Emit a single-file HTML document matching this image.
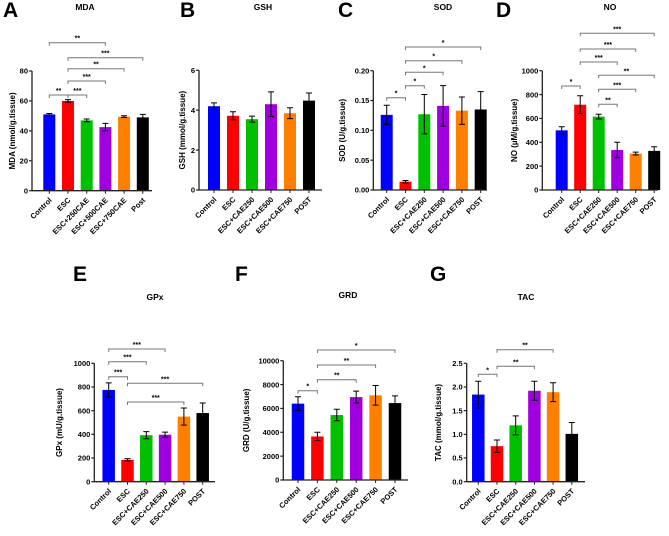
<!DOCTYPE html>
<html><head><meta charset="utf-8"><style>
body{margin:0;background:#fff}
svg{display:block;font-family:"Liberation Sans",sans-serif;font-weight:bold}
</style></head><body>
<svg id="fig" width="669" height="536" viewBox="0 0 669 536"></svg>
<script>
const colors=['#0000ff','#ff0000','#00c000','#a000e0','#ff8000','#000000'];
const catsA=['Control','ESC','ESC+250CAE','ESC+500CAE','ESC+750CAE','Post'];
const catsB=['Control','ESC','ESC+CAE250','ESC+CAE500','ESC+CAE750','POST'];
const mdaValues=[51,60,47,42.5,49.5,49];
const mdaErrors=[0.6,0.9,0.9,2.5,0.6,2];
const mdaTicks=[0,20,40,60,80];
const gshValues=[4.2,3.72,3.55,4.3,3.85,4.48];
const gshErrors=[0.17,0.2,0.15,0.62,0.27,0.38];
const gshTicks=[0,2,4,6];
const sodValues=[0.126,0.014,0.127,0.141,0.133,0.135];
const sodErrors=[0.016,0.002,0.033,0.034,0.023,0.03];
const sodTicks=[0,0.05,0.10,0.15,0.20];
const noValues=[500,715,615,335,305,328];
const noErrors=[30,75,20,65,12,35];
const noTicks=[0,200,400,600,800,1000];
const gpxValues=[775,185,393,397,550,580];
const gpxErrors=[60,10,30,22,72,85];
const gpxTicks=[0,200,400,600,800,1000];
const grdValues=[6400,3650,5450,6950,7100,6450];
const grdErrors=[580,350,480,500,820,600];
const grdTicks=[0,2000,4000,6000,8000,10000];
const tacValues=[1.84,0.75,1.19,1.92,1.89,1.01];
const tacErrors=[0.28,0.13,0.2,0.2,0.2,0.24];
const tacTicks=[0,0.5,1.0,1.5,2.0,2.5];

const NS='http://www.w3.org/2000/svg';
const svg=document.getElementById('fig');
function mk(tag,attrs,parent){const e=document.createElementNS(NS,tag);for(const k in attrs)e.setAttribute(k,attrs[k]);(parent||svg).appendChild(e);return e;}

function panel(p){
  const g=mk('g',{});
  
  
  const yS=v=>p.base-(v/p.max)*(p.base-p.top);
  const xS=i=>p.x0+i*p.step;
  const L=mk('text',{x:p.lx,y:p.ly,'font-size':21,fill:'#000'},g);L.textContent=p.letter;
  
  
  const T=mk('text',{x:p.tx,y:p.ty,'font-size':8.5,'text-anchor':'middle',fill:'#000'},g);T.textContent=p.title;
  
  
  p.values.forEach((v,i)=>{
    const bw=p.bw;
    const r=mk('rect',{x:xS(i)-bw/2,y:yS(v),width:bw,height:p.base-yS(v),fill:colors[i]},g);
    
    
    const e=p.errors[i],top=yS(v+e),bot=yS(Math.max(0,v-e));
    const eb=mk('path',{d:`M${xS(i)},${top}V${bot}M${xS(i)-3},${top}h6M${xS(i)-3},${bot}h6`,stroke:'#000','stroke-width':1,fill:'none'},g);
    
    
    mk('line',{x1:xS(i),y1:p.base,x2:xS(i),y2:p.base+3,stroke:'#222','stroke-width':1},g);
    const xl=mk('text',{x:xS(i)+3,y:p.base+10,'font-size':7.5,'text-anchor':'end',fill:'#000',transform:`rotate(-45 ${xS(i)+3} ${p.base+10})`},g);
    xl.textContent=p.cats[i];
    
    
  });
  mk('path',{d:`M${p.ax},${p.top}V${p.base}H${p.axEnd}`,stroke:'#222','stroke-width':1.3,fill:'none'},g);
  p.ticks.forEach(t=>{
    mk('line',{x1:p.ax-3,y1:yS(t),x2:p.ax,y2:yS(t),stroke:'#222','stroke-width':1.2},g);
    const tl=mk('text',{x:p.ax-4,y:yS(t)+2.7,'font-size':7.5,'text-anchor':'end',fill:'#000'},g);
    tl.textContent=p.fmt(t);
    
    
  });
  const cy=(p.top+p.base)/2;
  const yt=mk('text',{x:p.ytx,y:cy,'font-size':8,'text-anchor':'middle',fill:'#000',transform:`rotate(-90 ${p.ytx} ${cy})`},g);
  yt.textContent=p.ylabel;
  
  
  p.br.forEach(b=>{
    const x1=xS(b[0]),x2=xS(b[1]);
    const bl=mk('path',{d:`M${x1},${b[2]+3}V${b[2]}H${x2}V${b[2]+3}`,stroke:'#777','stroke-width':1,fill:'none'},g);
    
    
    const s=mk('text',{x:(x1+x2)/2,y:b[2]-2,'font-size':7,'text-anchor':'middle',fill:'#000'},g);
    s.textContent=b[3];
    
    
  });
}
const f0=t=>String(t), f2=t=>t.toFixed(2), f1=t=>t.toFixed(1);
panel({id:'mda',letter:'A',lx:3,ly:17,title:'MDA',tx:85,ty:10,values:mdaValues,errors:mdaErrors,ticks:mdaTicks,cats:catsA,max:80,top:71,base:190.7,ax:32,axEnd:152,x0:49.3,step:18.7,bw:12,ytx:15,ylabel:'MDA (nmol/g.tissue)',fmt:f0,
 br:[[0,3,42.7,'**'],[1,5,57.7,'***'],[1,4,68.7,'**'],[1,3,81,'***'],[0,1,95,'**'],[1,2,95,'***']]});
panel({id:'gsh',letter:'B',lx:180,ly:17,title:'GSH',tx:263,ty:10,values:gshValues,errors:gshErrors,ticks:gshTicks,cats:catsB,max:6,top:70.3,base:190,ax:199,axEnd:322,x0:214,step:19,bw:12,ytx:185,ylabel:'GSH (mmol/g.tissue)',fmt:f0,br:[]});
panel({id:'sod',letter:'C',lx:338,ly:17,title:'SOD',tx:443,ty:10,values:sodValues,errors:sodErrors,ticks:sodTicks,cats:catsB,max:0.2,top:70.7,base:190,ax:373.3,axEnd:487,x0:386.7,step:18.8,bw:12,ytx:345,ylabel:'SOD (U/g.tissue)',fmt:f2,
 br:[[0,1,97.7,'*'],[1,2,85.7,'*'],[1,3,72.3,'*'],[1,4,60.7,'*'],[1,5,47,'*']]});
panel({id:'no',letter:'D',lx:496,ly:17,title:'NO',tx:610,ty:10,values:noValues,errors:noErrors,ticks:noTicks,cats:catsB,max:1000,top:70.7,base:190,ax:542.3,axEnd:658,x0:561.7,step:18.5,bw:12,ytx:517,ylabel:'NO (µM/g.tissue)',fmt:f0,
 br:[[0,1,86,'*'],[2,3,104.3,'**'],[2,4,89.3,'***'],[2,5,75.3,'**'],[1,3,62,'***'],[1,4,49,'***'],[1,5,33.3,'***']]});
panel({id:'gpx',letter:'E',lx:73,ly:281,title:'GPx',tx:155,ty:300,values:gpxValues,errors:gpxErrors,ticks:gpxTicks,cats:catsB,max:1000,top:363.3,base:481.7,ax:94.3,axEnd:215,x0:108.7,step:18.8,bw:12.5,ytx:62,ylabel:'GPx (mU/g.tissue)',fmt:f0,
 br:[[0,1,376.7,'***'],[1,5,383.3,'***'],[1,4,402,'***'],[0,2,361.7,'***'],[0,3,349,'***']]});
panel({id:'grd',letter:'F',lx:235,ly:281,title:'GRD',tx:348,ty:298,values:grdValues,errors:grdErrors,ticks:grdTicks,cats:catsB,max:10000,top:360.7,base:480,ax:283.3,axEnd:408,x0:298,step:19.4,bw:12.5,ytx:249,ylabel:'GRD (U/g.tissue)',fmt:f0,
 br:[[0,1,390.7,'*'],[1,3,379.7,'**'],[1,4,365,'**'],[1,5,350,'*']]});
panel({id:'tac',letter:'G',lx:430,ly:281,title:'TAC',tx:526,ty:300,values:tacValues,errors:tacErrors,ticks:tacTicks,cats:catsB,max:2.5,top:363.3,base:481.7,ax:466.7,axEnd:585,x0:478.3,step:18.7,bw:12.5,ytx:441,ylabel:'TAC (mmol/g.tissue)',fmt:f1,
 br:[[0,1,374.3,'*'],[1,3,366.3,'**'],[1,4,349.7,'**']]});
</script>
</body></html>
